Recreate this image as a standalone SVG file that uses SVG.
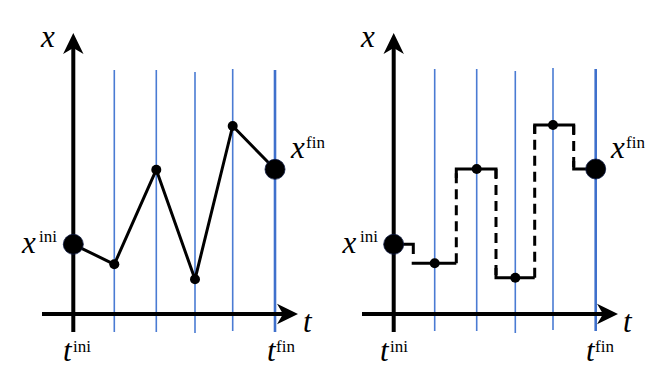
<svg xmlns="http://www.w3.org/2000/svg" width="664" height="374" viewBox="0 0 664 374">
<style>
.grid{stroke:#4a7bd3;stroke-width:1.6;fill:none}
.gridf{stroke:#3f70cc;stroke-width:2.6;fill:none}
.axis{stroke:#000;stroke-width:4;fill:none}
.path{stroke:#000;stroke-width:3;fill:none;stroke-linejoin:round}
.hs{stroke:#000;stroke-width:3;fill:none}
.vd{stroke:#000;stroke-width:3;fill:none;stroke-dasharray:10 6}
.dot{fill:#000}
.big{fill:#000;stroke:#0a1640;stroke-width:0.8}
text{font-family:"Liberation Serif","DejaVu Serif",serif}
.m{font-style:italic;font-size:31px;fill:#000}
.s{font-size:17px;fill:#000}
.arrow{fill:#000}
</style>
<rect width="664" height="374" fill="#fff"/>
<!-- LEFT PANEL -->
<g id="left-grid">
<line class="grid" x1="114.3" y1="70" x2="114.3" y2="332"/>
<line class="grid" x1="156.3" y1="70" x2="156.3" y2="332"/>
<line class="grid" x1="195" y1="72" x2="195" y2="333"/>
<line class="grid" x1="232.7" y1="69" x2="232.7" y2="331"/>
<line class="gridf" x1="275" y1="70" x2="275" y2="332"/>
</g>
<g id="left-axes">
<line class="axis" x1="73.3" y1="46" x2="73.3" y2="332"/>
<path class="arrow" d="M73.3,33 L83.5,54 L73.3,48 L63.1,54 Z"/>
<line class="axis" x1="42" y1="314" x2="285" y2="314"/>
<path class="arrow" d="M298,314 L277,324.2 L283,314 L277,303.8 Z"/>
<text class="m" x="41" y="46.5">x</text>
<text class="m" x="303" y="331.5">t</text>
</g>
<g id="left-connectors">
<polyline class="path" points="73.3,244.3 114.3,264.3 156.3,169.7 195,279.3 232.7,126 275,169.3"/>
</g>
<g id="left-xini">
<circle class="big" cx="73.3" cy="244.3" r="10"/>
<text class="m" x="22" y="252.5">x</text><text class="s" x="39" y="242">ini</text>
</g>
<g id="left-p1"><circle class="dot" cx="114.3" cy="264.3" r="5"/></g>
<g id="left-p2"><circle class="dot" cx="156.3" cy="169.7" r="5"/></g>
<g id="left-p3"><circle class="dot" cx="195" cy="279.3" r="5"/></g>
<g id="left-p4"><circle class="dot" cx="232.7" cy="126" r="5"/></g>
<g id="left-xfin">
<circle class="big" cx="275" cy="169.3" r="10"/>
<text class="m" x="291" y="157.5">x</text><text class="s" x="306" y="148">fin</text>
</g>
<g id="left-tini"><text class="m" x="63" y="361">t</text><text class="s" x="73" y="351.5">ini</text></g>
<g id="left-tfin"><text class="m" x="267" y="361">t</text><text class="s" x="276" y="351.5">fin</text></g>

<!-- RIGHT PANEL -->
<g id="right-grid">
<line class="grid" x1="434.7" y1="69" x2="434.7" y2="331"/>
<line class="grid" x1="476.7" y1="69" x2="476.7" y2="331"/>
<line class="grid" x1="515.3" y1="71" x2="515.3" y2="333"/>
<line class="grid" x1="553" y1="68" x2="553" y2="330"/>
<line class="gridf" x1="595.7" y1="69" x2="595.7" y2="331"/>
</g>
<g id="right-axes">
<line class="axis" x1="393.7" y1="46" x2="393.7" y2="332"/>
<path class="arrow" d="M393.7,33 L403.9,54 L393.7,48 L383.5,54 Z"/>
<line class="axis" x1="362" y1="314" x2="605" y2="314"/>
<path class="arrow" d="M618,314 L597,324.2 L603,314 L597,303.8 Z"/>
<text class="m" x="361" y="46.5">x</text>
<text class="m" x="623" y="331.5">t</text>
</g>
<g id="right-connectors">
<polyline class="hs" points="393.7,244.3 413.3,244.3 413.3,254"/>
<line class="hs" x1="411.7" y1="263.3" x2="456.3" y2="263.3"/>
<line class="vd" x1="456.3" y1="263.3" x2="456.3" y2="169"/>
<polyline class="hs" points="456.3,178 456.3,169 496,169 496,178"/>
<line class="vd" x1="496" y1="169" x2="496" y2="277.7"/>
<polyline class="hs" points="496,268 496,277.7 534.7,277.7"/>
<line class="vd" x1="534.7" y1="277.7" x2="534.7" y2="125"/>
<polyline class="hs" points="534.7,134 534.7,125 573.7,125 573.7,134"/>
<line class="vd" x1="573.7" y1="125" x2="573.7" y2="169"/>
<polyline class="hs" points="573.7,161 573.7,169 595.7,169"/>
</g>
<g id="right-xini">
<circle class="big" cx="393.7" cy="244.3" r="10"/>
<text class="m" x="342.5" y="252.5">x</text><text class="s" x="360" y="242">ini</text>
</g>
<g id="right-p1"><circle class="dot" cx="434.7" cy="263.3" r="5"/></g>
<g id="right-p2"><circle class="dot" cx="476.7" cy="169" r="5"/></g>
<g id="right-p3"><circle class="dot" cx="515.3" cy="277.7" r="5"/></g>
<g id="right-p4"><circle class="dot" cx="553" cy="125" r="5"/></g>
<g id="right-xfin">
<circle class="big" cx="595.7" cy="169" r="10"/>
<text class="m" x="611" y="157.5">x</text><text class="s" x="626" y="148">fin</text>
</g>
<g id="right-tini"><text class="m" x="380" y="361">t</text><text class="s" x="390" y="351.5">ini</text></g>
<g id="right-tfin"><text class="m" x="586" y="361">t</text><text class="s" x="595" y="351.5">fin</text></g>
</svg>
